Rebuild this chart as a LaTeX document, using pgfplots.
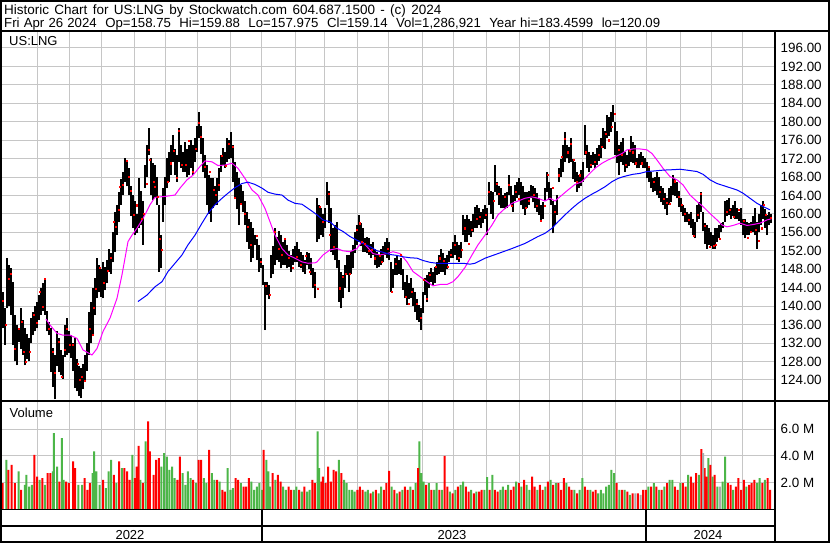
\documentclass[border=0pt]{standalone}
\usepackage{pgfplots}
\pgfplotsset{compat=1.18}
\usepackage{pgfplotstable}
\usepackage{fontspec}
\setmainfont{Liberation Sans}

\definecolor{grd}{RGB}{198,198,198}
\definecolor{vgreen}{RGB}{76,182,72}
\definecolor{vred}{RGB}{255,0,0}
\definecolor{vgray}{RGB}{170,170,170}
\definecolor{mag}{RGB}{255,0,255}
\definecolor{mablue}{RGB}{0,0,255}

% daily bars, x = pixel column of the chart
\pgfplotstableread[row sep=\\]{
x hi lo\\
3 143.1 135.2\\ 5 139.5 131.6\\ 7 150.4 139.5\\ 9 149.0 140.0\\ 11 148.2 138.1\\
13 145.3 131.6\\ 15 138.1 128.0\\ 17 135.9 127.2\\ 19 135.2 132.3\\ 21 139.5 130.8\\
23 137.0 129.5\\ 25 135.2 127.2\\ 27 134.0 128.5\\ 29 133.0 128.0\\ 31 137.5 132.0\\
33 138.8 133.7\\ 35 140.0 134.5\\ 37 141.0 135.2\\ 39 142.5 137.0\\ 41 143.9 138.1\\
43 145.0 139.0\\ 45 146.0 138.1\\ 47 139.0 134.5\\ 49 136.6 133.7\\ 51 135.2 125.8\\
53 131.0 122.5\\ 55 129.4 119.8\\ 57 134.5 127.0\\ 59 133.0 125.8\\ 61 130.5 125.0\\
63 129.4 124.3\\ 65 136.0 129.0\\ 67 137.4 129.4\\ 69 134.5 129.8\\ 71 133.7 128.7\\
73 132.0 126.0\\ 75 133.0 122.2\\ 77 128.5 121.5\\ 79 127.0 120.5\\ 81 126.5 120.0\\
83 127.5 122.0\\ 85 129.4 123.6\\ 87 132.0 126.0\\ 89 138.8 129.4\\ 91 141.0 132.0\\
93 143.9 133.7\\ 95 146.0 138.0\\ 97 150.4 141.7\\ 99 149.0 143.0\\ 101 148.0 142.0\\
103 149.6 141.7\\ 105 148.5 143.5\\ 107 150.0 145.0\\ 109 152.5 147.5\\ 111 151.5 147.0\\
113 156.0 149.5\\ 115 160.5 151.8\\ 117 162.0 155.5\\ 119 164.8 158.3\\ 121 167.5 162.0\\
123 169.2 164.1\\ 125 172.1 167.0\\ 127 171.5 166.0\\ 129 169.9 164.1\\ 131 166.0 159.5\\
133 164.1 156.9\\ 135 162.7 155.4\\ 137 160.0 155.8\\ 139 167.7 156.9\\ 141 165.0 157.5\\
143 162.7 153.3\\ 145 170.6 165.6\\ 147 175.0 168.0\\ 149 178.6 172.8\\ 151 172.1 164.1\\
153 171.0 163.0\\ 155 170.6 163.4\\ 157 168.0 162.0\\ 159 162.0 147.5\\ 161 155.4 148.2\\
163 165.6 158.3\\ 165 168.0 162.0\\ 167 172.1 165.6\\ 169 173.5 167.0\\ 171 175.0 168.4\\
173 177.1 171.3\\ 175 174.0 168.5\\ 177 172.8 167.0\\ 179 178.6 171.3\\ 181 175.0 170.0\\
183 173.5 169.2\\ 185 175.7 169.2\\ 187 174.0 168.0\\ 189 175.0 168.4\\ 191 176.0 170.0\\
193 175.0 168.4\\ 195 176.4 171.3\\ 197 179.0 173.5\\ 199 182.2 176.4\\ 201 179.0 173.0\\
203 176.4 169.2\\ 205 172.8 167.7\\ 207 170.6 162.0\\ 209 168.5 160.0\\ 211 167.7 158.3\\
213 167.7 161.2\\ 215 166.0 162.0\\ 217 167.7 162.0\\ 219 170.0 165.0\\ 221 172.8 169.2\\
223 174.2 170.6\\ 225 173.5 170.0\\ 227 176.4 171.3\\ 229 176.0 172.0\\ 231 177.8 172.1\\
233 175.0 167.0\\ 235 171.3 163.4\\ 237 169.0 161.0\\ 239 167.7 157.6\\ 241 166.3 162.0\\
243 165.0 160.5\\ 245 162.7 157.6\\ 247 160.5 154.0\\ 249 159.0 152.5\\ 251 158.3 149.6\\
253 157.0 150.5\\ 255 155.4 153.3\\ 257 154.5 150.0\\ 259 153.3 147.5\\ 261 150.4 148.2\\
263 149.0 144.5\\ 265 145.3 134.8\\ 267 145.3 142.4\\ 269 144.5 141.5\\ 271 151.1 146.0\\
273 153.0 147.0\\ 275 156.9 148.9\\ 277 155.0 150.0\\ 279 156.2 149.6\\ 281 155.4 148.2\\
283 154.0 149.0\\ 285 154.7 148.9\\ 287 153.3 148.2\\ 289 152.0 148.5\\ 291 151.0 147.5\\
293 152.5 148.9\\ 295 153.0 149.5\\ 297 154.0 149.6\\ 299 152.5 148.5\\ 301 151.8 148.2\\
303 151.1 147.5\\ 305 150.0 147.0\\ 307 151.8 148.9\\ 309 151.5 148.0\\ 311 150.4 146.8\\
313 148.2 143.9\\ 315 147.5 141.7\\ 317 163.4 154.0\\ 319 162.0 154.5\\ 321 161.2 155.4\\
323 160.0 155.0\\ 325 161.2 156.9\\ 327 167.0 162.0\\ 329 165.0 158.0\\ 331 161.2 151.8\\
333 156.9 151.1\\ 335 157.5 150.0\\ 337 158.3 148.2\\ 339 150.0 141.0\\ 341 147.5 139.5\\
343 146.8 141.7\\ 345 149.0 144.0\\ 347 151.1 146.8\\ 349 151.1 143.1\\ 351 152.0 147.0\\
353 153.3 148.2\\ 355 156.0 151.5\\ 357 157.6 153.3\\ 359 159.8 154.0\\ 361 158.0 153.0\\
363 156.9 151.8\\ 365 154.7 151.8\\ 367 155.0 151.5\\ 369 154.7 151.1\\ 371 153.5 150.5\\
373 154.0 151.1\\ 375 152.5 148.9\\ 377 151.8 148.2\\ 379 151.0 148.5\\ 381 152.5 148.9\\
383 153.0 149.5\\ 385 154.0 151.1\\ 387 154.7 150.4\\ 389 154.0 150.0\\ 391 149.6 143.1\\
393 148.0 144.0\\ 395 150.4 146.8\\ 397 151.1 146.8\\ 399 150.0 147.0\\ 401 150.4 146.8\\
403 148.0 143.5\\ 405 145.3 141.7\\ 407 146.8 140.3\\ 409 145.0 141.5\\ 411 146.0 141.7\\
413 144.0 140.0\\ 415 143.1 138.8\\ 417 141.5 137.0\\ 419 140.3 136.6\\ 421 139.5 134.8\\
423 143.0 138.5\\ 425 146.0 142.4\\ 427 146.8 141.0\\ 429 147.5 144.0\\ 431 148.2 145.3\\
433 147.5 144.6\\ 435 148.5 145.0\\ 437 149.6 146.8\\ 439 151.0 147.0\\ 441 152.5 147.5\\
443 151.5 147.5\\ 445 150.4 146.8\\ 447 151.0 148.0\\ 449 152.0 149.5\\ 451 152.5 150.4\\
453 154.0 150.5\\ 455 155.4 151.1\\ 457 154.0 150.0\\ 459 153.3 149.6\\ 461 154.0 150.4\\
463 159.8 155.4\\ 465 159.0 154.0\\ 467 159.8 154.0\\ 469 159.0 155.4\\ 471 158.5 155.0\\
473 160.0 156.0\\ 475 161.5 157.0\\ 477 162.0 156.9\\ 479 161.2 157.6\\ 481 160.5 157.0\\
483 161.0 158.0\\ 485 161.9 159.0\\ 487 161.2 155.4\\ 489 167.0 162.0\\ 491 165.0 160.0\\
493 164.8 159.0\\ 495 170.6 164.8\\ 497 167.0 164.1\\ 499 166.0 162.0\\ 501 165.6 161.2\\
503 164.1 161.2\\ 505 164.5 161.0\\ 507 164.8 161.2\\ 509 168.4 164.1\\ 511 166.0 162.0\\
513 164.1 160.5\\ 515 166.3 162.7\\ 517 167.0 163.5\\ 519 167.7 164.1\\ 521 167.0 162.0\\
523 166.0 161.0\\ 525 164.8 159.8\\ 527 164.8 161.2\\ 529 165.0 162.0\\ 531 166.3 163.4\\
533 166.0 162.5\\ 535 165.6 161.2\\ 537 164.5 160.5\\ 539 163.4 159.8\\ 541 162.0 158.3\\
543 162.5 159.0\\ 545 165.6 162.7\\ 547 169.2 164.8\\ 549 167.0 163.0\\ 551 165.6 162.0\\
553 162.7 155.8\\ 555 162.0 157.5\\ 557 164.1 159.8\\ 559 169.9 167.0\\ 561 172.0 168.0\\
563 175.0 169.2\\ 565 177.8 171.3\\ 567 175.0 172.1\\ 569 174.5 171.0\\ 571 176.4 171.3\\
573 172.0 167.5\\ 575 171.3 167.0\\ 577 169.2 164.8\\ 579 168.4 165.6\\ 581 169.5 166.0\\
583 171.3 167.0\\ 585 179.3 172.8\\ 587 175.0 170.0\\ 589 173.5 169.2\\ 591 172.8 169.9\\
593 173.5 170.6\\ 595 173.0 170.0\\ 597 174.2 170.6\\ 599 175.0 171.5\\ 601 176.4 172.1\\
603 178.6 174.2\\ 605 178.0 174.0\\ 607 181.5 176.4\\ 609 181.0 177.0\\ 611 182.2 177.8\\
613 183.6 180.0\\ 615 180.0 172.8\\ 617 178.0 171.0\\ 619 175.0 168.4\\ 621 175.7 171.3\\
623 176.4 170.6\\ 625 173.5 169.2\\ 627 172.8 169.9\\ 629 174.0 170.5\\ 631 176.8 171.3\\
633 175.5 171.0\\ 635 175.0 170.6\\ 637 172.1 169.9\\ 639 173.0 170.0\\ 641 173.5 170.6\\
643 172.5 170.0\\ 645 172.1 169.9\\ 647 171.3 167.7\\ 649 170.5 167.0\\ 651 169.2 165.6\\
653 167.7 164.8\\ 655 168.0 165.0\\ 657 169.2 164.1\\ 659 168.0 163.5\\ 661 166.0 162.5\\
663 165.6 162.0\\ 665 164.5 161.0\\ 667 163.4 159.8\\ 669 165.6 162.0\\ 671 166.0 162.5\\
673 168.4 164.1\\ 675 167.5 164.0\\ 677 167.0 163.4\\ 679 165.0 161.5\\ 681 163.4 160.5\\
683 162.0 159.5\\ 685 161.2 158.3\\ 687 160.5 158.3\\ 689 160.0 157.5\\ 691 160.5 156.9\\
693 159.0 155.5\\ 695 158.3 154.7\\ 697 161.9 158.3\\ 699 162.5 159.0\\ 701 164.8 160.5\\
703 160.5 156.2\\ 705 158.0 153.5\\ 707 157.6 152.5\\ 709 156.9 153.3\\ 711 156.0 153.0\\
713 155.4 152.5\\ 715 156.9 152.5\\ 717 157.0 154.0\\ 719 157.6 154.7\\ 721 158.0 156.0\\
723 158.3 156.9\\ 725 162.7 158.3\\ 727 163.0 159.5\\ 729 163.4 159.8\\ 731 161.2 159.0\\
733 162.0 159.5\\ 735 162.7 159.0\\ 737 161.2 159.0\\ 739 160.5 158.5\\ 741 161.2 157.6\\
743 159.0 155.5\\ 745 159.0 154.7\\ 747 158.3 155.4\\ 749 158.0 155.5\\ 751 158.3 156.2\\
753 159.5 156.0\\ 755 161.2 155.4\\ 757 158.3 152.5\\ 759 160.0 156.0\\ 761 161.9 157.6\\
763 162.7 159.0\\ 765 161.0 157.0\\ 767 159.8 155.4\\ 769 160.5 157.6\\ 771 159.88 157.975\\
}\bars

% volume in millions; z = column in 1/1.889 px, c: 0 down, 1 up, 2 unchanged
\pgfplotstableread[row sep=\\]{
z v c\\
5 1.95 0\\ 12 3.7 1\\ 16 2.95 0\\ 22 3.33 0\\ 28 1.95 0\\ 35 2.83 1\\ 40 1.45 0\\ 47 1.83 1\\
50 2.58 1\\ 55 1.7 1\\ 60 1.83 1\\ 65 4.08 0\\ 70 2.45 0\\ 75 2.2 1\\ 80 2.33 0\\ 85 1.83 1\\
90 2.7 0\\ 95 2.7 0\\ 100 2.83 1\\ 102 5.7 1\\ 108 3.2 1\\ 112 2.08 0\\ 117 5.33 1\\ 120 2.2 1\\
125 2.08 0\\ 130 1.95 0\\ 138 3.58 0\\ 142 3.08 0\\ 148 1.83 1\\ 155 1.83 1\\ 160 2.33 0\\
165 1.45 0\\ 170 1.95 0\\ 175 2.7 1\\ 178 4.33 1\\ 182 2.83 1\\ 188 1.83 1\\ 195 2.2 0\\
200 1.58 1\\ 205 2.83 1\\ 210 3.7 1\\ 215 2.58 0\\ 220 1.95 1\\ 225 3.58 0\\ 230 3.08 1\\
235 3.08 0\\ 240 2.83 0\\ 245 2.2 0\\ 250 4.08 1\\ 255 2.33 0\\ 258 3.2 0\\ 262 4.75 0\\
265 2.2 1\\ 270 1.95 0\\ 275 5.08 1\\ 280 6.58 0\\ 283 4.33 0\\ 290 2.58 0\\ 295 3.7 0\\
300 3.83 0\\ 305 3.2 1\\ 310 4.2 1\\ 315 3.95 1\\ 320 2.95 1\\ 325 3.2 1\\ 330 2.33 1\\
335 2.2 0\\ 340 3.95 0\\ 345 2.7 1\\ 350 1.83 1\\ 355 2.83 1\\ 360 2.33 1\\ 365 2.2 0\\
370 1.95 1\\ 375 3.7 0\\ 380 3.7 0\\ 385 2.33 1\\ 390 1.95 1\\ 395 4.45 0\\ 400 2.7 1\\
405 2.2 1\\ 410 2.2 0\\ 415 2.08 1\\ 420 1.45 0\\ 425 1.33 0\\ 430 3.08 1\\ 435 1.45 1\\
440 1.58 1\\ 445 2.33 0\\ 450 2.2 0\\ 455 1.95 1\\ 460 1.7 0\\ 465 1.7 0\\ 470 2.33 0\\
475 2.08 1\\ 480 1.45 1\\ 485 1.7 1\\ 490 1.95 1\\ 495 1.45 1\\ 498 4.45 0\\ 503 3.7 1\\
507 2.83 1\\ 510 1.7 1\\ 515 2.7 0\\ 520 2.2 1\\ 525 2.58 0\\ 530 2.08 0\\ 535 1.7 1\\
540 1.45 1\\ 545 1.7 0\\ 550 1.45 0\\ 555 1.45 1\\ 560 1.7 1\\ 565 1.45 0\\ 570 1.33 1\\
575 1.7 0\\ 580 1.33 1\\ 585 1.45 1\\ 590 2.2 0\\ 595 1.95 0\\ 600 5.83 1\\ 603 3.08 1\\
607 2.08 0\\ 610 2.45 0\\ 615 1.95 0\\ 620 3.2 0\\ 625 2.08 0\\ 630 2.95 0\\ 635 2.83 0\\
640 3.7 1\\ 645 2.7 0\\ 650 2.2 1\\ 655 1.95 1\\ 660 1.45 1\\ 665 1.45 1\\ 670 1.33 1\\
675 1.45 0\\ 680 1.7 0\\ 685 1.45 0\\ 690 1.33 1\\ 695 1.45 1\\ 700 1.2 0\\ 705 1.33 1\\
710 1.45 0\\ 715 1.2 1\\ 720 1.7 1\\ 725 1.45 0\\ 730 1.95 0\\ 735 2.88 0\\ 740 1.7 1\\
745 1.45 0\\ 750 1.2 1\\ 755 1.33 0\\ 760 1.45 1\\ 765 1.7 0\\ 770 1.45 0\\ 775 1.7 1\\
780 1.45 0\\ 785 1.95 1\\ 790 3.08 0\\ 792 5.08 1\\ 796 2.7 1\\ 800 2.08 1\\ 805 1.83 0\\
810 1.95 1\\ 815 1.45 0\\ 820 1.45 1\\ 825 1.95 1\\ 830 1.45 0\\ 835 1.45 1\\ 840 4.0 0\\
845 1.7 0\\ 850 1.33 1\\ 855 1.2 0\\ 860 1.45 1\\ 865 1.7 0\\ 870 1.83 1\\ 875 2.08 1\\
880 1.7 0\\ 885 1.33 0\\ 890 1.45 1\\ 895 1.2 0\\ 900 1.33 1\\ 905 1.33 0\\ 910 1.45 0\\
915 1.45 1\\ 920 2.4 1\\ 925 1.45 0\\ 930 2.58 1\\ 935 1.45 0\\ 940 1.33 0\\ 945 1.45 1\\
950 1.7 1\\ 955 1.45 0\\ 960 1.83 1\\ 965 1.45 0\\ 970 1.7 0\\ 975 2.08 1\\ 980 1.95 0\\
985 1.7 1\\ 990 2.2 0\\ 995 1.83 1\\ 1000 1.45 1\\ 1005 2.45 0\\ 1010 1.7 0\\ 1015 1.45 1\\
1020 1.83 0\\ 1025 1.45 0\\ 1030 1.7 1\\ 1035 2.08 0\\ 1040 2.2 1\\ 1045 1.83 0\\ 1050 1.95 1\\
1055 1.95 0\\ 1060 1.45 0\\ 1065 2.33 0\\ 1070 1.95 1\\ 1075 1.7 0\\ 1080 1.45 0\\ 1085 1.45 1\\
1090 1.2 0\\ 1095 1.45 1\\ 1100 2.33 1\\ 1105 1.7 0\\ 1110 1.45 0\\ 1115 1.45 1\\ 1120 1.33 0\\
1125 1.45 0\\ 1130 1.2 1\\ 1135 1.45 1\\ 1140 1.2 1\\ 1145 1.7 1\\ 1150 1.83 1\\ 1155 2.95 1\\
1160 2.7 1\\ 1165 1.95 0\\ 1170 1.45 1\\ 1175 1.45 0\\ 1180 1.45 1\\ 1185 1.33 0\\ 1190 1.08 1\\
1195 1.2 0\\ 1200 1.2 2\\ 1205 1.2 0\\ 1210 1.08 2\\ 1215 1.45 0\\ 1220 1.45 0\\ 1225 1.7 1\\
1230 1.7 0\\ 1235 1.95 1\\ 1240 1.7 0\\ 1245 1.45 1\\ 1250 1.45 0\\ 1255 1.7 1\\ 1260 1.95 0\\
1265 2.2 1\\ 1270 2.2 1\\ 1275 1.7 0\\ 1280 1.45 0\\ 1285 1.95 1\\ 1290 1.95 0\\ 1295 1.7 0\\
1300 2.58 1\\ 1305 2.45 0\\ 1310 1.95 0\\ 1315 2.7 0\\ 1320 2.58 1\\ 1325 4.5 0\\ 1328 4.2 2\\
1331 3.08 0\\ 1335 2.45 0\\ 1338 3.83 1\\ 1342 3.33 0\\ 1346 2.45 1\\ 1350 2.58 0\\ 1355 1.7 1\\
1360 1.7 2\\ 1365 2.08 1\\ 1370 3.95 1\\ 1375 1.95 0\\ 1380 1.83 0\\ 1385 1.45 1\\ 1390 1.7 0\\
1395 2.33 0\\ 1400 1.45 0\\ 1405 2.2 0\\ 1410 1.7 1\\ 1415 1.83 0\\ 1420 1.95 0\\ 1425 2.2 0\\
1430 1.95 1\\ 1435 2.33 1\\ 1440 1.95 0\\ 1445 2.2 1\\ 1450 2.33 0\\ 1455 1.45 0\\
}\vol

\pgfplotsset{
  panel/.style={
    scale only axis, width=772pt, xmin=2, xmax=774,
    axis line style={draw=none}, tick style={draw=none},
    xtick={37.3,69.3,101,134.7,165.7,197.3,230,261.5,295,324.3,357.3,388.3,
           422.7,453.3,486,519.3,549.3,582.3,615.3,646.7,680,711,742.7},
    xticklabels={}, grid=major, grid style={grd, line width=1pt},
    yticklabel pos=right, clip=true,
    yticklabel style={anchor=west, inner sep=0pt, xshift=6.5pt,
                      font=\fontsize{13.4}{15}\selectfont},
    /pgf/number format/assume math mode=true,
  }
}

\begin{document}
\begin{tikzpicture}[font=\fontsize{13}{15}\selectfont]
\useasboundingbox (0,0) rectangle (830pt,543pt);
\fill[white] (0,0) rectangle (830pt,543pt);

% price panel
\begin{axis}[panel, at={(2pt,143pt)}, anchor=south west, height=368pt,
  ymin=119.64, ymax=199.47, ytick={124,128,...,196},
  yticklabel style={/pgf/number format/.cd, fixed, fixed zerofill, precision=2},
  scaled y ticks=false]
\addplot[only marks, mark=none, mark size=0pt, mark options={draw=none, fill=none},
  forget plot,
  error bars/.cd, y dir=plus, y explicit, error mark=none,
  error bar style={draw=black, line width=1.2pt}]
  table[x=x, y=lo, y error plus expr=\thisrow{hi}-\thisrow{lo}] {\bars};
\addplot[mag, line width=1pt, mark=none] coordinates {
(46,137.2)(50,135.9)(57,134.1)(63,133.7)(70,133.7)(77,133.0)(83,130.5)(92,129.4)
(97,130.8)(103,134.5)(110,137.4)(117,141.7)(122,146.8)(125,150.4)(128,154.0)
(132,155.4)(137,156.9)(143,159.0)(150,162.0)(155,163.6)(165,163.8)(175,164.1)
(180,165.6)(187,167.4)(193,168.4)(200,170.3)(205,171.5)(212,171.3)(218,170.5)
(225,170.6)(232,171.0)(238,169.9)(245,167.7)(252,165.2)(258,164.1)(265,161.2)
(270,158.3)(275,155.4)(282,152.5)(288,151.1)(295,150.4)(302,149.6)(308,149.3)
(315,149.4)(317,149.6)(323,151.1)(330,152.2)(337,152.5)(343,152.0)(350,151.8)
(357,152.5)(362,154.0)(367,152.9)(373,151.4)(380,151.1)(387,151.4)(393,151.8)
(400,151.4)(407,149.6)(413,147.5)(420,146.4)(427,145.3)(433,144.4)(440,144.7)
(447,144.7)(453,145.3)(458,146.4)(465,148.4)(472,151.1)(478,153.3)(485,155.4)
(492,157.6)(498,159.8)(505,161.2)(512,162.3)(518,162.8)(525,163.4)(532,163.7)
(538,163.4)(545,162.8)(550,163.4)(555,162.8)(562,164.1)(568,165.2)(575,166.4)
(582,167.0)(588,168.4)(595,169.9)(602,171.0)(608,171.7)(615,172.4)(622,173.1)
(627,173.9)(633,174.1)(640,174.1)(647,173.9)(652,173.1)(657,171.7)(663,169.9)
(670,168.1)(677,167.4)(683,166.3)(690,164.1)(697,162.7)(703,161.6)(710,160.1)
(717,158.7)(722,157.6)(727,157.2)(733,157.5)(740,158.0)(747,157.5)(753,157.7)
(760,158.0)(767,158.7)(772,159.0)};
\addplot[mablue, line width=1pt, mark=none] coordinates {
(138,141.0)(147,142.4)(155,144.2)(162,145.3)(168,147.5)(175,149.3)(182,151.1)
(188,153.3)(195,155.4)(202,158.0)(208,160.1)(215,162.0)(222,163.4)(228,164.5)
(235,165.7)(242,166.6)(248,166.9)(255,166.4)(262,165.6)(268,164.7)(275,164.3)
(282,164.1)(288,163.0)(295,162.3)(302,162.1)(308,161.2)(312,160.6)(317,159.8)
(323,158.7)(330,158.3)(337,156.9)(343,156.2)(350,155.1)(357,154.3)(363,153.6)
(370,152.9)(377,152.0)(383,151.7)(390,151.2)(397,151.0)(403,150.7)(410,150.5)
(417,150.4)(423,149.9)(430,149.5)(437,149.3)(443,149.3)(450,149.3)(457,149.3)
(463,149.3)(470,149.1)(475,149.3)(485,150.4)(498,151.4)(512,152.5)(525,153.6)
(538,155.1)(545,155.8)(552,156.9)(558,158.3)(565,159.8)(572,161.2)(578,162.3)
(585,163.4)(592,164.3)(598,165.0)(605,165.9)(612,167.0)(618,167.7)(622,168.0)
(627,168.3)(633,168.6)(640,168.8)(647,169.2)(653,169.3)(663,169.5)(673,169.6)
(680,169.7)(687,169.5)(697,169.2)(703,168.6)(710,167.4)(717,166.6)(727,165.9)
(737,165.2)(743,164.5)(750,163.4)(757,162.3)(763,161.6)(770,160.9)};
\addplot[only marks, mark=square*, mark size=0.55pt, vred, mark options={draw=none}]
coordinates {
(2.7,141.1)(5.7,135.9)(8.3,146)(11,147.1)(14.3,130.8)(18.3,135.2)(21.7,136.6)
(24,130.1)(26,128)(29.3,130.1)(33.3,138.1)(36.7,136.4)(39.3,143.1)(42.3,139.8)
(44.3,146)(48.3,135.2)(52.3,130.1)(55,125.6)(58.3,132.3)(61.7,124.7)(64.3,130.5)
(66.7,135.2)(70,131.6)(72.7,131.6)(77.3,127.6)(80,124)(82,124.7)(85,123.8)
(89.3,135.2)(92.7,133.9)(94,139.7)(96,143.7)(100,148.3)(103.3,145)(107.3,147.6)
(111,150.6)(114,158.3)(116,157.2)(118.7,160.9)(120,165.9)(122.7,166.3)
(126.7,171.5)(128.3,168.1)(131,165)(134,159.8)(136.7,161.9)(141.7,158.9)
(144,160.1)(146.7,166.6)(148.3,173.9)(150,171.7)(153.3,167)(155,165.9)
(157.3,163.7)(159.3,154.7)(161.7,152.2)(167.7,167)(171,171)(173.3,173.7)
(176.7,167.9)(179,178.1)(181.7,170.6)(185.7,170.6)(188.3,175.8)(192.3,169.2)
(195.7,174.2)(198.3,179.7)(201,176.8)(205,170.3)(209.3,169.2)(213.3,165.2)
(215.7,164.1)(218.3,166.3)(221.7,172.6)(226,170.5)(229,175.3)(232.3,174.6)
(235,163.5)(241,162.3)(245,160.1)(247.7,157.2)(250.3,153.3)(256.7,155.3)
(261,149.6)(265.7,144.4)(270,142.4)(274.3,156.2)(278.3,152.5)(281.7,151.1)
(285,154.6)(288.3,150.5)(292.3,148.4)(296.7,150.7)(301,148.9)(305.7,151)
(310,147.5)(314.3,144.6)(317.3,143.7)(319.3,161.6)(322.3,158.3)(328.3,164.3)
(330,155.4)(334,152.9)(340,143.9)(342.3,146.4)(346,147.1)(350,147.1)
(356.7,156.5)(359.3,158)(361.7,154)(365,153.6)(368.3,152)(371.7,152.2)
(375,150.4)(379.3,150.9)(381.7,149.6)(387.3,152.5)(392,143.1)(396,149.2)
(400.7,151.1)(406,142.1)(408.7,140.6)(411.7,143.1)(416.7,140.6)(420.7,137.5)
(424,145.7)(426.7,141.7)(430,146.8)(436,148.6)(439.3,150.4)(443.3,149.8)
(447.3,148.6)(450.7,151.1)(455,153.3)(458.3,150.5)(461.7,152.2)(465,156.9)
(468.3,153.6)(471.7,156.5)(476.7,159)(480,159.4)(485.7,159.9)(489,164.8)
(493.3,162.8)(496.7,166.6)(499,164.3)(505,163.7)(508.3,166.4)(511.7,161.8)
(515.7,164.8)(518.3,163.4)(525.7,161.4)(529,162.8)(533.3,164.1)(536.7,161.8)
(541,158.5)(545,161.8)(547.7,168.6)(552.3,165.6)(555,160.5)(558.3,168.4)
(561.7,172.4)(564.3,176.4)(567.7,173.4)(571,175.3)(573.3,171.7)(577,166.9)
(580,168.4)(585.7,173.4)(591,170.6)(595,171.3)(598.3,172.8)(601.7,174.6)
(605.7,177.5)(609,176)(611.7,178.9)(614.3,181.8)(618.3,173.9)(621.7,172.8)
(626,170.6)(629.3,173.7)(632.7,173.4)(636,171)(642,171)(648.3,170.3)(654,166.9)
(659.3,164.8)(663.3,163.4)(666.7,162.5)(670,162.2)(674.3,167.1)(678.3,163.7)
(681.7,162.1)(685,160.1)(688.3,158.7)(694,155.3)(697.3,159.9)(700.7,164.3)
(705,157.5)(709.3,152.9)(714,153.1)(716,153.4)(720,154.6)(726.7,160.5)
(730,160.9)(733.3,159.4)(738.3,160.9)(744,158.5)(747.3,154.9)(750.7,156.2)
(756,156.6)(758.7,154.2)(761.7,156.9)(763.3,162)(766,159.9)(770.7,159.14)};
\end{axis}

% volume panel
\begin{axis}[panel, at={(2pt,33.7pt)}, anchor=south west, height=107.3pt,
  ymin=0, ymax=8.03, ytick={2,4,6}, yticklabels={2.0 M,4.0 M,6.0 M}]
\addplot[ybar, bar shift=0pt, bar width=2pt, fill=vgreen, draw=none]
  table[x expr=\thisrow{z}/1.889, y expr={\thisrow{c}==1 ? \thisrow{v} : nan}] {\vol};
\addplot[ybar, bar shift=0pt, bar width=2pt, fill=vred, draw=none]
  table[x expr=\thisrow{z}/1.889, y expr={\thisrow{c}==0 ? \thisrow{v} : nan}] {\vol};
\addplot[ybar, bar shift=0pt, bar width=2pt, fill=vgray, draw=none]
  table[x expr=\thisrow{z}/1.889, y expr={\thisrow{c}==2 ? \thisrow{v} : nan}] {\vol};
\end{axis}

% frame
\draw[line width=2pt] (1pt,1pt) rectangle (829pt,542pt);
\draw[line width=2pt] (0,512pt) -- (830pt,512pt);
\draw[line width=2pt] (0,142pt) -- (830pt,142pt);
\draw[line width=2pt] (774.5pt,512pt) -- (774.5pt,0);
\draw[line width=1.5pt] (0,33.5pt) -- (774.5pt,33.5pt);
\draw[line width=2pt] (0,16.5pt) -- (774.5pt,16.5pt);
\draw[line width=1.3pt] (262pt,33.5pt) -- (262pt,0);
\draw[line width=1.3pt] (646pt,33.5pt) -- (646pt,0);

% texts
\node[anchor=base west, inner sep=0pt, font=\fontsize{13.5}{15}\selectfont] at (4pt,528.5pt)
  {\spaceskip=5.3pt Historic Chart for US:LNG by Stockwatch.com 604.687.1500 - (c) 2024};
\node[anchor=base west, inner sep=0pt, font=\fontsize{13.2}{15}\selectfont] at (4pt,515.5pt)
  {\spaceskip=4.2pt Fri Apr 26 2024\hspace{8.5pt}Op=158.75\hspace{8.5pt}Hi=159.88\hspace{8.5pt}Lo=157.975\hspace{8.5pt}Cl=159.14\hspace{8.5pt}Vol=1,286,921\hspace{8.5pt}Year hi=183.4599\hspace{8.5pt}lo=120.09};
\node[anchor=base west, inner sep=0pt] at (9pt,497.5pt) {US:LNG};
\node[anchor=base west, inner sep=0pt] at (9.5pt,125.5pt) {Volume};
\node[anchor=base, inner sep=0pt] at (130pt,3.8pt) {2022};
\node[anchor=base, inner sep=0pt] at (452pt,3.8pt) {2023};
\node[anchor=base, inner sep=0pt] at (708pt,3.8pt) {2024};
\end{tikzpicture}
\end{document}
